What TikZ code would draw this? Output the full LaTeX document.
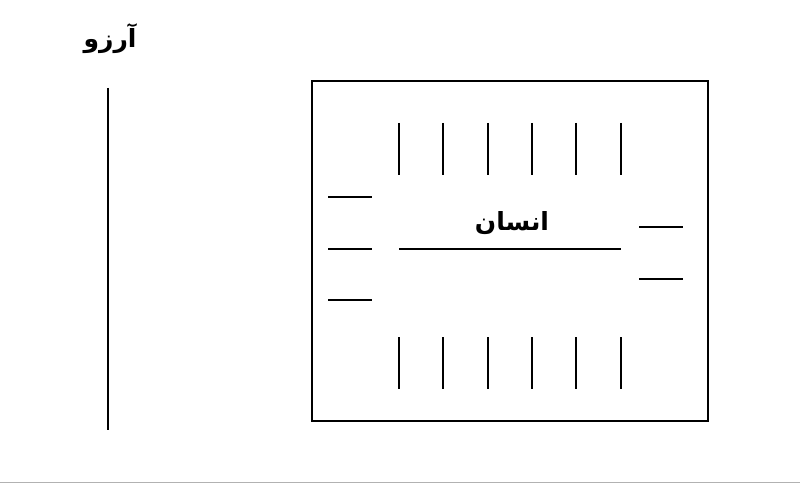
\documentclass[tikz,border=0pt]{standalone}
\usepackage{fontspec}
\TeXXeTstate=1
\newfontfamily\arabicfont[Script=Arabic]{DejaVu Sans}
\begin{document}
\begin{tikzpicture}[x=1pt,y=-1pt,
  frame/.style={draw=black,line width=2.6pt},
  tick/.style={draw=black,line width=1.4pt},
  lbl/.style={font=\arabicfont\bfseries\fontsize{25}{30}\selectfont,inner sep=0pt}]
\useasboundingbox (0,0) rectangle (800,484);
\fill[white] (0,0) rectangle (800,484);
\draw[gray!60,line width=1.5pt] (0,482.5) -- (800,482.5);
% title and left line
\node[lbl] (title) at (110,39) {\beginR آرزو\endR};
\coordinate (lt) at (108,88);
\coordinate (lb) at (108,430);
\draw[tick] (lt) -- (lb);
% frame
\node[frame,minimum width=396pt,minimum height=340pt,inner sep=0pt] (box) at (510,251) {};
% label
\node[lbl] (ins) at (512,223) {\beginR انسان\endR};
\coordinate (ml) at (399,249);
\coordinate (mr) at (621,249);
\draw[tick] (ml) -- (mr);
% top and bottom ticks
\foreach \x [count=\i] in {399,443,488,532,576,621}{
  \coordinate (t\i a) at (\x,123);
  \coordinate (t\i b) at (\x,175);
  \coordinate (b\i a) at (\x,337);
  \coordinate (b\i b) at (\x,389);
  \draw[tick] (t\i a) -- (t\i b);
  \draw[tick] (b\i a) -- (b\i b);
}
% left ticks
\foreach \y [count=\i] in {197,249,300}{
  \coordinate (l\i a) at (328,\y);
  \coordinate (l\i b) at (372,\y);
  \draw[tick] (l\i a) -- (l\i b);
}
% right ticks
\foreach \y [count=\i] in {227,279}{
  \coordinate (r\i a) at (639,\y);
  \coordinate (r\i b) at (683,\y);
  \draw[tick] (r\i a) -- (r\i b);
}
\end{tikzpicture}
\end{document}
